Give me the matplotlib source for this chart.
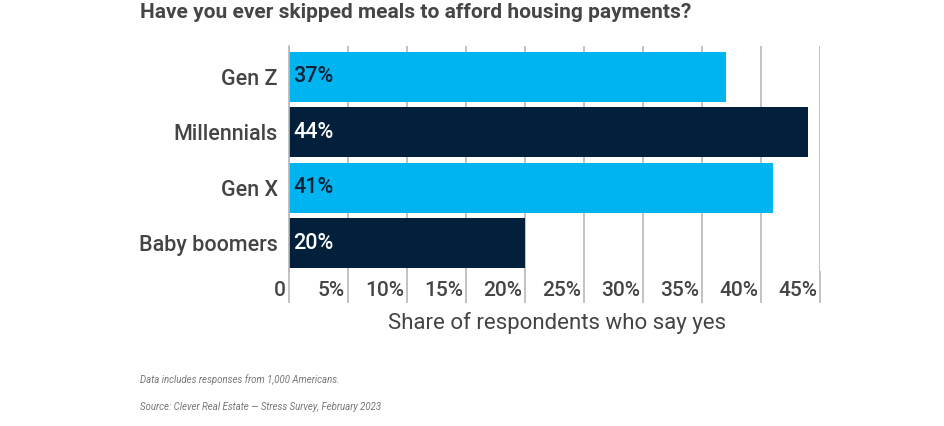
import matplotlib
matplotlib.use("Agg")
import matplotlib.pyplot as plt
import matplotlib.transforms as mtransforms

plt.rcParams['font.family'] = ['Roboto', 'DejaVu Sans']

# data
groups = ["Gen Z", "Millennials", "Gen X", "Baby boomers"]
share = [37, 44, 41, 20]
colors = ["#00b4ef", "#02203b", "#00b4ef", "#02203b"]
label_colors = ["#0d2238", "white", "#0d2238", "white"]
ticks = [0, 5, 10, 15, 20, 25, 30, 35, 40, 45]
tick_labels = ["0"] + [f"{t}%" for t in ticks[1:]]

grey = "#444444"
line_grey = "#b8b8b8"

fig = plt.figure(figsize=(9.45, 4.26), dpi=100)
ax = fig.add_axes([289 / 945, 1 - 271 / 426, (820 - 289) / 945, (271 - 46) / 426])

y = list(range(len(groups)))
ax.barh(y, share, height=0.9, color=colors, zorder=2)
ax.set_ylim(3.5, -0.55)
ax.set_xlim(0, 45)

# value labels inside bars
for yi, v, c in zip(y, share, label_colors):
    ax.annotate(f"{v}%", (0, yi), xytext=(3, 0), textcoords="offset points",
                va="center", ha="left", fontsize=15.5, fontweight="medium",
                color=c, zorder=3)

ax.set_yticks(y)
ax.set_yticklabels(groups, fontsize=15.5, fontweight="medium", color=grey)
ax.tick_params(axis="y", length=0, pad=8)

# x ticks run down through the tick label row
ax.set_xticks(ticks)
ax.set_xticklabels(tick_labels, fontsize=15, fontweight="medium", color=grey)
ax.tick_params(axis="x", length=23, width=1.2, color=line_grey, pad=-9)
offset = mtransforms.ScaledTranslation(-3 / 100, 0, fig.dpi_scale_trans)
for lab in ax.get_xticklabels():
    lab.set_ha("right")
    lab.set_va("center")
    lab.set_transform(lab.get_transform() + offset)

ax.grid(axis="x", color=line_grey, linewidth=1.2, zorder=0)
for s in ["top", "right", "bottom"]:
    ax.spines[s].set_visible(False)
ax.spines["left"].set_color(line_grey)
ax.spines["left"].set_linewidth(1.2)

ax.set_xlabel("Share of respondents who say yes", fontsize=16, color=grey, va="center")
ax.xaxis.set_label_coords(0.505, -0.232)

fig.text(140 / 945, 1 - 13 / 426, "Have you ever skipped meals to afford housing payments?",
         fontsize=15, fontweight="bold", color="#454545", va="center", ha="left")
fig.text(140 / 945, 1 - 380 / 426, "Data includes responses from 1,000 Americans.",
         fontsize=6.9, style="italic", color="#777777", va="center", ha="left")
fig.text(140 / 945, 1 - 407 / 426, "Source: Clever Real Estate \u2014 Stress Survey, February 2023",
         fontsize=6.9, style="italic", color="#777777", va="center", ha="left")

fig.savefig("out.png", dpi=100)
